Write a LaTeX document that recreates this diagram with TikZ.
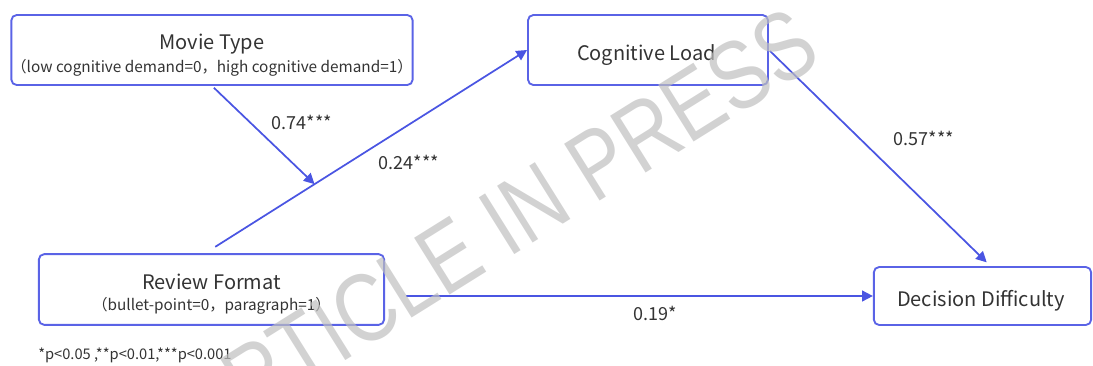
\documentclass[tikz,border=0pt]{standalone}
\usepackage{fontspec}
\setmainfont{Noto Sans CJK SC}
\newfontfamily\wmfont{Liberation Sans}
\usepackage{tikz}
\usetikzlibrary{arrows.meta,calc,positioning}
\definecolor{boxblue}{HTML}{5A63E6}
\definecolor{arrowblue}{HTML}{4A55E2}
\definecolor{txtgray}{HTML}{333333}
\newcommand{\boxtitle}[1]{{\fontsize{15}{18}\selectfont\rule{0pt}{19pt}#1}}
\newcommand{\boxsub}[1]{{\fontsize{11.5}{13}\selectfont #1}}

\begin{document}
\begin{tikzpicture}[x=0.75pt,y=-0.75pt,
              box/.style={draw=boxblue,line width=1.4pt,rounded corners=4pt,align=center,
                  text=txtgray,inner sep=0pt},
              flow/.style={-{Triangle[length=8pt,width=8pt]},draw=arrowblue,line width=1.3pt},
              coef/.style={text=txtgray,font=\fontsize{13.5}{15}\selectfont,inner sep=0pt}
            ]
            \useasboundingbox (0,0) rectangle (1093,365);
            \node[box,minimum width=300pt,minimum height=52.5pt] (mt) at (212,50) {
              \boxtitle{Movie Type}\\[3pt]
              \boxsub{（low cognitive demand=0，high cognitive demand=1）}
            };
            \node[box,minimum width=180pt,minimum height=52.5pt] (cl) at (648,50) {
              \boxtitle{Cognitive Load}
            };
            \node[box,minimum width=259pt,minimum height=53pt] (rf) at (211.5,289.5) {
              \boxtitle{Review Format}\\[3.5pt]
              \boxsub{（bullet-point=0，paragraph=1）}
            };
            \node[box,minimum width=163pt,minimum height=43.5pt] (dd) at (982.5,296) {
              \boxtitle{Decision Difficulty}
            };
            \path (rf.100) -- (cl.west) coordinate[pos=0.34] (mid);
            \draw[flow,shorten <=9pt] (rf.100) -- (cl.west);
            \draw[flow,shorten <=2pt] (mt.south) -- (mid);
            \draw[flow,shorten <=1pt,shorten >=4pt] (cl.east) -- (dd.75);
            \draw[flow,shorten <=16pt] (rf.east |- dd.west) -- (dd.west);
            \node[coef] (c1) at (302,122) {0.74***};
            \node[coef] (c2) at (409,162) {0.24***};
            \node[coef] (c3) at (924,138) {0.57***};
            \node[coef] (c4) at (655,313) {0.19*};
            \node[text=txtgray,font=\fontsize{11}{13}\selectfont,anchor=west,inner sep=0pt] (note) at (38,355)
              {*p<0.05 ,**p<0.01,***p<0.001};
            % watermark
            \node[text=black!25,opacity=0.7,font=\wmfont\fontsize{73}{75}\selectfont,
                  rotate=32,xscale=0.82,inner sep=0pt] (wm)
              at (497,226) {ARTICLE IN PRESS};
          \end{tikzpicture}
\end{document}
